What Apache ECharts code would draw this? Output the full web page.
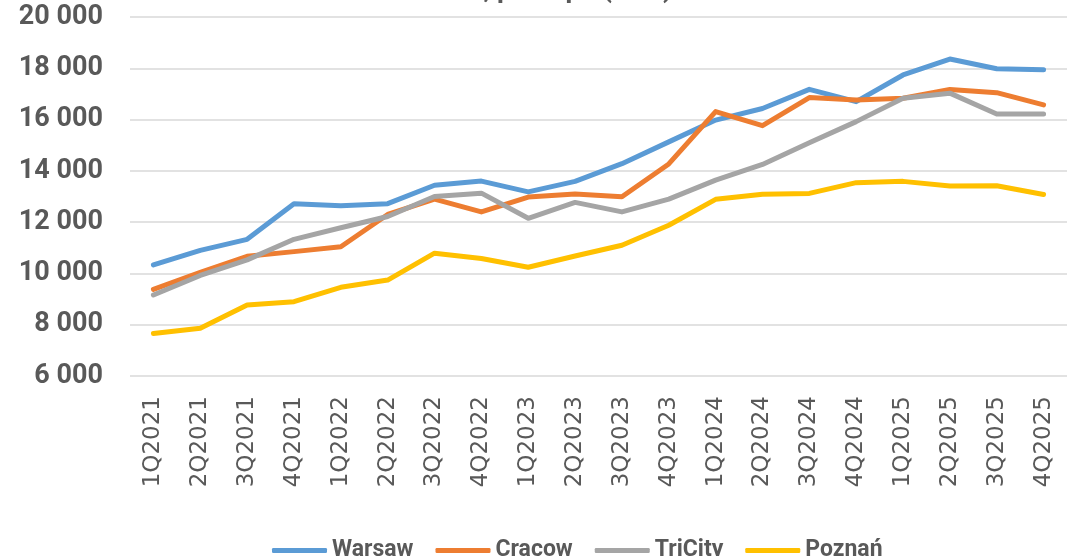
<!DOCTYPE html>
<html>
<head>
<meta charset="utf-8">
<script src="https://cdn.jsdelivr.net/npm/echarts@6/dist/echarts.min.js"></script>
<style>
  html, body { margin: 0; padding: 0; background: #fff; }
  #chart { width: 1079px; height: 556px; }
</style>
</head>
<body>
<div id="chart"></div>
<script>
const quarters = ['1Q2021', '2Q2021', '3Q2021', '4Q2021', '1Q2022', '2Q2022', '3Q2022', '4Q2022',
  '1Q2023', '2Q2023', '3Q2023', '4Q2023', '1Q2024', '2Q2024', '3Q2024', '4Q2024',
  '1Q2025', '2Q2025', '3Q2025', '4Q2025'];

const warsaw = [10330, 10900, 11330, 12720, 12640, 12720, 13440, 13600, 13180, 13590,
  14280, 15130, 15980, 16430, 17180, 16700, 17740, 18360, 17980, 17940];
const cracow = [9380, 10040, 10670, 10850, 11040, 12300, 12900, 12400, 12980, 13100,
  12990, 14270, 16310, 15760, 16860, 16760, 16830, 17170, 17050, 16570];
const tricity = [9160, 9920, 10530, 11330, 11780, 12220, 13000, 13130, 12150, 12770,
  12400, 12900, 13640, 14250, 15100, 15920, 16830, 17030, 16220, 16220];
const poznan = [7660, 7860, 8770, 8900, 9460, 9740, 10790, 10580, 10240, 10680,
  11100, 11880, 12890, 13090, 13120, 13540, 13590, 13410, 13420, 13080];

const seriesNames = ['Warsaw', 'Cracow', 'TriCity', 'Poznań'];
const seriesColors = ['#5B9BD5', '#ED7D31', '#A5A5A5', '#FFC000'];
const seriesData = [warsaw, cracow, tricity, poznan];

const chart = echarts.init(document.getElementById('chart'));

chart.setOption({
  animation: false,
  title: {
    text: 'Prices, per sqm (PLN)',
    left: 'center',
    top: -28,
    textStyle: {
      fontFamily: 'Roboto',
      fontWeight: 'bold',
      fontSize: 27,
      color: '#595959'
    }
  },
  grid: {
    left: 130,
    right: 12,
    top: 17,
    bottom: 180
  },
  legend: {
    data: seriesNames,
    left: 267,
    top: 534,
    icon: 'roundRect',
    itemWidth: 55,
    itemHeight: 5,
    itemGap: 22,
    textStyle: {
      fontFamily: 'Roboto',
      fontWeight: 'bold',
      fontSize: 23,
      color: '#595959'
    }
  },
  xAxis: {
    type: 'category',
    data: quarters,
    boundaryGap: true,
    axisLine: { show: false },
    axisTick: { show: false },
    axisLabel: {
      rotate: 90,
      margin: 20,
      fontFamily: 'DejaVu Sans',
      fontSize: 23,
      color: '#595959'
    }
  },
  yAxis: {
    type: 'value',
    min: 6000,
    max: 20000,
    interval: 2000,
    axisLine: { show: false },
    axisTick: { show: false },
    axisLabel: {
      margin: 27,
      fontFamily: 'Roboto',
      fontWeight: 'bold',
      fontSize: 27,
      color: '#595959',
      formatter: function (v) {
        return String(v).replace(/\B(?=(\d{3})+(?!\d))/g, ' ');
      }
    },
    splitLine: {
      lineStyle: { color: '#d9d9d9', width: 1.5 }
    }
  },
  series: seriesNames.map(function (name, i) {
    return {
      name: name,
      type: 'line',
      data: seriesData[i],
      showSymbol: false,
      symbol: 'none',
      color: seriesColors[i],
      lineStyle: { width: 5, cap: 'round', join: 'round' }
    };
  })
});
</script>
</body>
</html>
